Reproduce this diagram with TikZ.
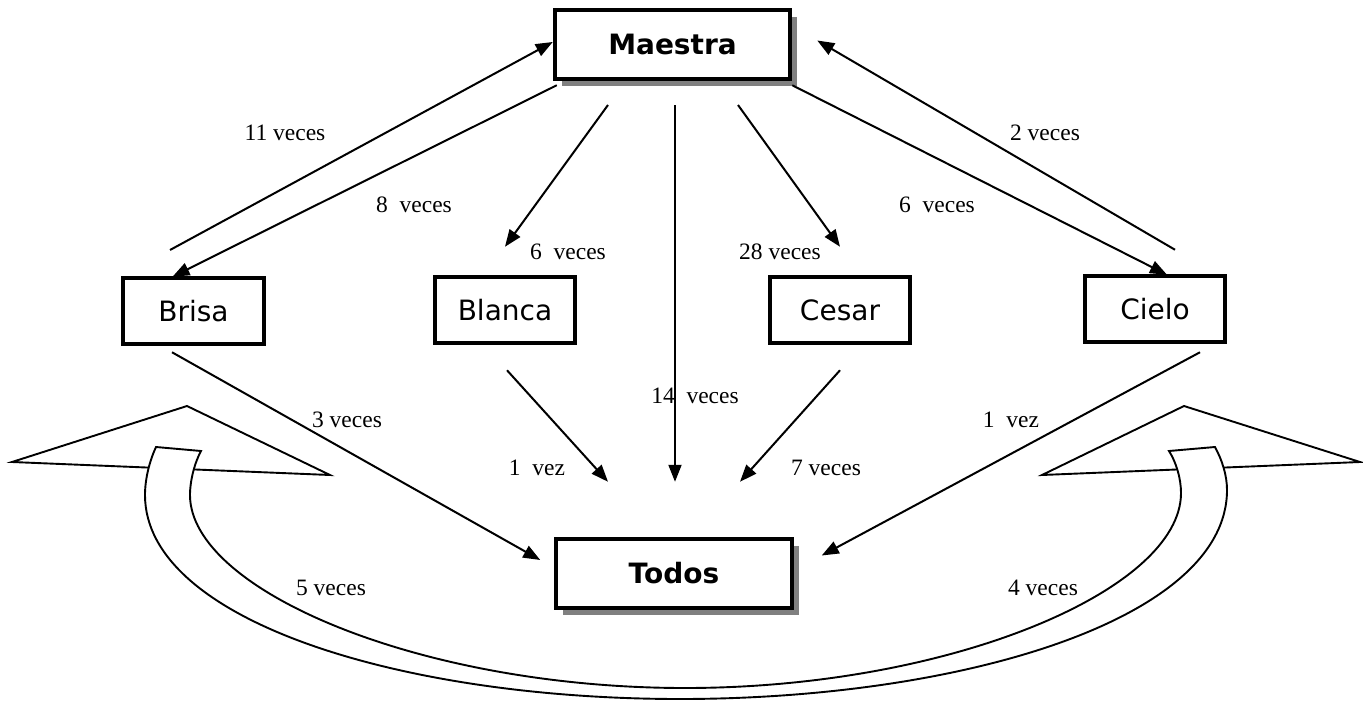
\documentclass[tikz,border=0pt]{standalone}
\usepackage{fontspec}
\setmainfont{Liberation Serif}
\newfontfamily\boxfont{DejaVu Sans}
\usetikzlibrary{arrows.meta,shadows,calc}
\begin{document}
\begin{tikzpicture}[x=1pt,y=-1pt,
 box/.style={draw,line width=4pt,fill=white,minimum width=140.5pt,minimum height=66.5pt,inner sep=0pt,font=\boxfont\fontsize{28}{32}\selectfont},
 bigbox/.style={box,minimum width=235.5pt,minimum height=69.5pt,font=\boxfont\bfseries\fontsize{28}{32}\selectfont,drop shadow={shadow xshift=7pt,shadow yshift=-7pt,fill=black!50,opacity=1}},
 conn/.style={line width=2pt,-{Triangle[length=17pt,width=13pt]}},
 lbl/.style={font=\fontsize{23.5}{27}\selectfont,inner sep=0pt},
 blk/.style={line width=1.9pt,fill=white,line join=miter}
]
\useasboundingbox (0,0) rectangle (1363,704);

% curved double block arrow
\draw[blk] (12,462) -- (187,406) -- (330,475) -- cycle;
\draw[blk] (1042,475) -- (1184,406) -- (1360,462) -- cycle;
\draw[blk] (156,447) .. controls (150,460) and (145,478) .. (145,495)
  .. controls (145,620) and (400,699) .. (680,699)
  .. controls (960,699) and (1227,620) .. (1227,490)
  .. controls (1227,475) and (1222,460) .. (1215,447)
  -- (1169,451)
  .. controls (1176,462) and (1181,478) .. (1181,493)
  .. controls (1181,590) and (950,688) .. (685,688)
  .. controls (420,688) and (190,590) .. (190,495)
  .. controls (190,480) and (195,462) .. (201,451) -- cycle;

% boxes
\node[bigbox] (M) at (672.5,44.5) {Maestra};
\node[box] (Br) at (193.5,311) {Brisa};
\node[box] (Bl) at (505,310) {Blanca};
\node[box] (Ce) at (840,310) {Cesar};
\node[box] (Ci) at (1155,309) {Cielo};
\node[bigbox] (T) at (674,573.5) {Todos};

% connectors
\draw[conn] ($(Br.north)+(-23.5,-25.75)$) -- ($(M.west)+(0,-2.5)$);
\draw[conn] ($(M.south west)+(4,4)$) -- ($(Br.north)+(-21,1)$);
\draw[conn] ($(M.south)+(-64.5,23.75)$) -- ($(Bl.north)+(0,-28)$);
\draw[conn] ($(M.south)+(2.5,23.75)$) -- ($(T.north)+(1,-55)$);
\draw[conn] ($(M.south)+(65.5,23.75)$) -- ($(Ce.north)+(0,-28)$);
\draw[conn] ($(M.south east)+(0,4)$) -- ($(Ci.north)+(12,1)$);
\draw[conn] ($(Ci.north)+(20,-24)$) -- ($(M.east)+(25,-4)$);
\draw[conn] ($(Br.south)+(-21.5,6)$) -- ($(T.west)+(-14,-13.5)$);
\draw[conn] ($(Bl.south)+(2,25)$) -- ($(T.north)+(-66,-55)$);
\draw[conn] ($(Ce.south)+(0,25)$) -- ($(T.north)+(66,-55)$);
\draw[conn] ($(Ci.south)+(45,8)$) -- ($(T.east)+(28,-18)$);

% labels
\node[lbl] (l1) at (285,133) {11 veces};
\node[lbl] (l2) at (414,205) {8~~veces};
\node[lbl] (l3) at (568,252) {6~~veces};
\node[lbl] (l4) at (780,252) {28 veces};
\node[lbl] (l5) at (937,205) {6~~veces};
\node[lbl] (l6) at (1045,133) {2 veces};
\node[lbl] (l7) at (695,396) {14~~veces};
\node[lbl] (l8) at (347,420) {3 veces};
\node[lbl] (l9) at (1011,420) {1~~vez};
\node[lbl] (l10) at (537,468) {1~~vez};
\node[lbl] (l11) at (826,468) {7 veces};
\node[lbl] (l12) at (331,588) {5 veces};
\node[lbl] (l13) at (1043,588) {4 veces};
\end{tikzpicture}
\end{document}
